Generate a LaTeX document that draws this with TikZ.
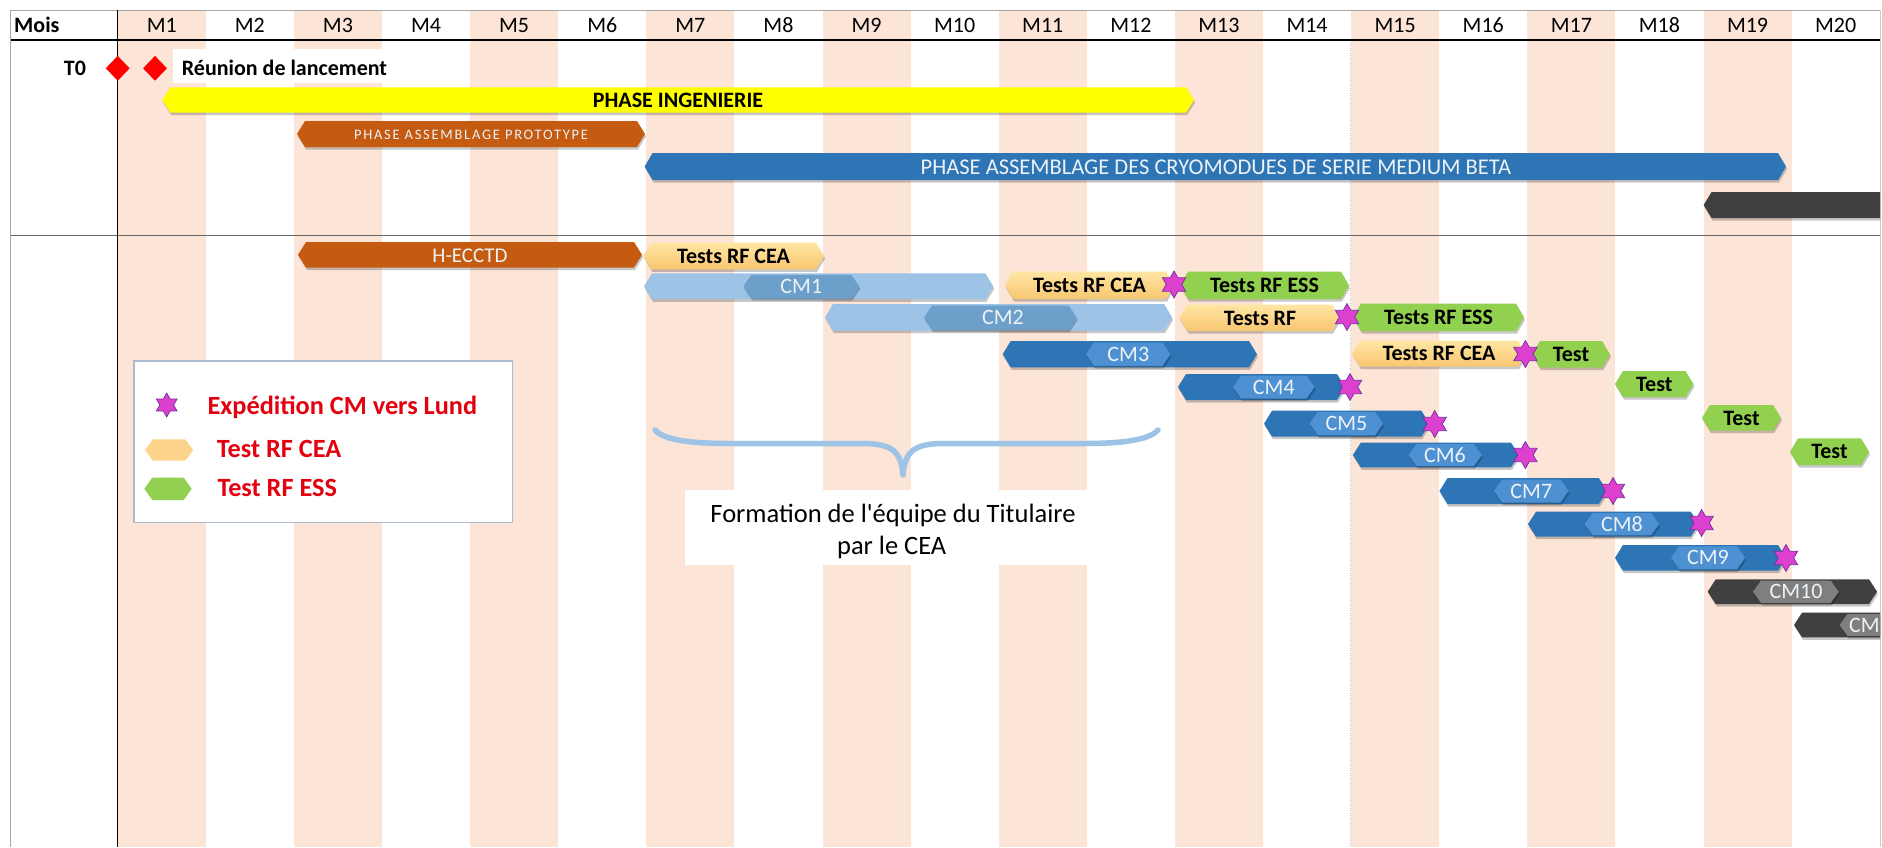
\documentclass[tikz,border=0pt]{standalone}
\usepackage{fontspec}
\setmainfont{Carlito}
\usetikzlibrary{shapes.geometric}

\definecolor{stripe}{HTML}{FCE4D6}
\definecolor{ingyellow}{HTML}{FFFF00}
\definecolor{protoorange}{HTML}{C55A11}
\definecolor{seriesblue}{HTML}{2E75B6}
\definecolor{innerblue}{HTML}{4E91D2}
\definecolor{paleblue}{HTML}{9DC3E6}
\definecolor{paleinner}{HTML}{6CA0CB}
\definecolor{darkbar}{HTML}{404040}
\definecolor{darkinner}{HTML}{7F7F7F}
\definecolor{ceatop}{HTML}{FFE6A3}
\definecolor{ceabot}{HTML}{F8C670}
\definecolor{ceaflat}{HTML}{FDD48B}
\definecolor{essgreen}{HTML}{92D050}
\definecolor{shipstar}{HTML}{DD3FCF}
\definecolor{shipedge}{HTML}{7030A0}
\definecolor{legendred}{HTML}{E3000F}
\definecolor{bracecol}{HTML}{9DC3E6}
\definecolor{legendedge}{HTML}{A9BCD0}
\definecolor{bartext}{HTML}{EDF2F7}

% hexagonal bar: style, left tip x, right tip x, top y, bottom y
\newcommand{\hexpath}[5]{\path[#1] ({#2},{(#4+#5)/2}) -- ({#2+8},{#4}) -- ({#3-8},{#4})
  -- ({#3},{(#4+#5)/2}) -- ({#3-8},{#5}) -- ({#2+8},{#5}) -- cycle;}
% bar with a soft drop shadow underneath
\newcommand{\ganttbar}[5]{%
  \hexpath{fill=black,opacity=0.22,xshift=1pt,yshift=-2.5pt}{#2}{#3}{#4}{#5}%
  \hexpath{#1}{#2}{#3}{#4}{#5}}

\tikzset{
  cea/.style={top color=ceatop, bottom color=ceabot},
  hdrlbl/.style={font=\fontsize{22}{26}\selectfont, anchor=base, inner sep=0pt},
  boldlbl/.style={font=\fontsize{22}{26}\selectfont\bfseries, anchor=base, inner sep=0pt},
  cmlbl/.style={font=\fontsize{22}{26}\selectfont, text=bartext, anchor=base, inner sep=0pt},
  protolbl/.style={font=\fontsize{14.5}{17}\selectfont\addfontfeature{LetterSpace=12}, text=bartext, anchor=base, inner sep=0pt},
  phaselbl/.style={font=\fontsize{22.5}{26}\selectfont, text=bartext, anchor=base, inner sep=0pt},
  legendlbl/.style={font=\fontsize{26.3}{30}\selectfont\bfseries, text=legendred, anchor=base west, inner sep=0pt},
  notelbl/.style={font=\fontsize{26.5}{31}\selectfont\addfontfeature{Ligatures=TeXOff}, anchor=base, inner sep=0pt},
  ship/.style={star, star points=6, star point ratio=1.75, fill=shipstar, draw=shipedge,
    line width=0.7, minimum size=27, inner sep=0pt},
  milestone/.style={diamond, fill=red, minimum width=24, minimum height=25, inner sep=0pt},
  brace/.style={draw=bracecol, line width=5.5, line cap=round, line join=round},
}

\begin{document}
\begin{tikzpicture}[x=1pt, y=-1pt]
\useasboundingbox (0,0) rectangle (1882,847);
\fill[white] (0,0) rectangle (1882,847);

% month columns, odd months shaded
\foreach \k in {0,2,...,18}
  \fill[stripe] ({117.7+\k*88.1},10) rectangle ({117.7+(\k+1)*88.1},847);

% grid lines
\draw[gray!45, line width=0.6, dash pattern=on 1pt off 1.5pt] (1350,40) -- (1350,847);
\draw[gray!70, line width=1] (10,10) -- (1880,10);
\draw[black, line width=1.3] (10,40) -- (1880,40);
\draw[gray!80!black, line width=1] (10,235.5) -- (1880,235.5);
\draw[gray!70, line width=1] (10,10) -- (10,847);
\draw[gray!40, line width=0.8] (1880,10) -- (1880,847);
\draw[black, line width=0.8] (117.7,10) -- (117.7,847);

% header row
\node[boldlbl, anchor=base west] (mois) at (14,32.7) {Mois};
\foreach \k in {1,...,20}
  \node[hdrlbl] (m\k) at ({117.7+(\k-0.5)*88.1},32.7) {M\k};

% kick-off
\node[boldlbl] (t0) at (75,75.5) {T0};
\node[milestone] (t0a) at (117.7,68.3) {};
\node[milestone] (t0b) at (155,68.3) {};
\fill[white] (172.7,49.3) rectangle (390,83.3);
\node[boldlbl, anchor=base west] (kickoff) at (181.7,75.2) {Réunion de lancement};

% main phases
\ganttbar{fill=ingyellow}{162.3}{1194}{87.3}{112.7}
\node[boldlbl] (ing) at (678,107.4) {PHASE INGENIERIE};
\ganttbar{fill=protoorange}{297}{645}{121}{147}
\node[protolbl] (proto) at (471,139) {PHASE ASSEMBLAGE PROTOTYPE};
\ganttbar{fill=seriesblue}{644.6}{1786}{153}{180}
\node[phaselbl] (serie) at (1216,174) {PHASE ASSEMBLAGE DES CRYOMODUES DE SERIE MEDIUM BETA};

\begin{scope}
\clip (0,0) rectangle (1880,847);
\ganttbar{fill=darkbar}{1703.6}{1960}{192}{218}
% CM10 and CM11 run past the last month
\ganttbar{fill=darkbar}{1707.7}{1877}{579.3}{604}
\ganttbar{fill=darkinner}{1753}{1838.7}{580.5}{603}
\node[cmlbl] (cm10) at (1796,598.7) {CM10};
\ganttbar{fill=darkbar}{1794}{1962}{612.7}{637.3}
\ganttbar{fill=darkinner}{1839.5}{1925}{614}{636}
\node[cmlbl, anchor=base west] (cm11) at (1849,632) {CM};
\end{scope}

% prototype and first tests
\ganttbar{fill=protoorange}{298}{642}{242}{267.5}
\node[cmlbl, font=\fontsize{21}{25}\selectfont] (hecctd) at (470,262.5) {H-ECCTD};
\ganttbar{cea}{643.3}{824}{242.7}{269.3}
\node[boldlbl] (ceaA) at (733.5,263.3) {Tests RF CEA};

% CM1
\ganttbar{fill=paleblue}{644}{993.3}{273.3}{299.3}
\ganttbar{fill=paleinner}{743.3}{859.3}{274.8}{298}
\node[cmlbl] (cm1) at (801.3,293.5) {CM1};
\ganttbar{cea}{1005}{1174}{271.7}{299}
\node[boldlbl] (ceaB) at (1089.5,292.5) {Tests RF CEA};
\ganttbar{fill=essgreen}{1180}{1349}{271.7}{299}
\node[boldlbl] (essB) at (1264.5,292.5) {Tests RF ESS};
\node[ship] (shipB) at (1174,284.5) {};

% CM2
\ganttbar{fill=paleblue}{825}{1172}{304}{330.7}
\ganttbar{fill=paleinner}{924}{1076.7}{305.5}{329.5}
\node[cmlbl] (cm2) at (1003,324.5) {CM2};
\ganttbar{cea}{1179.5}{1340}{304.5}{331}
\node[boldlbl] (ceaC) at (1260,325) {Tests RF};
\ganttbar{fill=essgreen}{1353}{1524}{303.5}{331}
\node[boldlbl] (essC) at (1438.5,324.5) {Tests RF ESS};
\node[ship] (shipC) at (1347,317) {};

% CM3
\ganttbar{fill=seriesblue}{1002.7}{1257}{341}{367.3}
\ganttbar{fill=innerblue}{1086}{1170.5}{342.5}{366}
\node[cmlbl] (cm3) at (1128.3,361.3) {CM3};
\ganttbar{cea}{1352}{1526}{340.5}{366.7}
\node[boldlbl] (ceaD) at (1439,360.8) {Tests RF CEA};
\ganttbar{fill=essgreen}{1532}{1610}{341}{367.7}
\node[boldlbl] (essD) at (1571,361.5) {Test};
\node[ship] (shipD) at (1525.4,354) {};

% CM4
\ganttbar{fill=seriesblue}{1178}{1345}{374}{400}
\ganttbar{fill=innerblue}{1233}{1314.5}{375.5}{398.5}
\node[cmlbl] (cm4) at (1273.8,394) {CM4};
\node[ship] (shipE) at (1350,387) {};
\ganttbar{fill=essgreen}{1615}{1693.5}{371}{397}
\node[boldlbl] (essE) at (1654.3,391) {Test};

% CM5
\ganttbar{fill=seriesblue}{1264}{1429.4}{410.7}{436.7}
\ganttbar{fill=innerblue}{1309.7}{1383}{412}{435.3}
\node[cmlbl] (cm5) at (1346.4,430.7) {CM5};
\node[ship] (shipF) at (1434.7,424) {};
\ganttbar{fill=essgreen}{1702}{1781}{405}{430.7}
\node[boldlbl] (essF) at (1741.5,425) {Test};

% CM6
\ganttbar{fill=seriesblue}{1352.8}{1519}{442.7}{467.3}
\ganttbar{fill=innerblue}{1408.5}{1481.8}{444}{466}
\node[cmlbl] (cm6) at (1445,462) {CM6};
\node[ship] (shipG) at (1525.4,455) {};
\ganttbar{fill=essgreen}{1790}{1869}{438.3}{465}
\node[boldlbl] (essG) at (1829.5,458.8) {Test};

% CM7 to CM9
\ganttbar{fill=seriesblue}{1439.5}{1606.9}{478}{504}
\ganttbar{fill=innerblue}{1494}{1568.5}{479.5}{502.5}
\node[cmlbl] (cm7) at (1531.3,498) {CM7};
\node[ship] (shipH) at (1613,491) {};

\ganttbar{fill=seriesblue}{1528}{1698.8}{511.7}{536.7}
\ganttbar{fill=innerblue}{1584.7}{1659}{513}{535.3}
\node[cmlbl] (cm8) at (1621.9,531.2) {CM8};
\node[ship] (shipI) at (1701.6,523) {};

\ganttbar{fill=seriesblue}{1615}{1786}{545}{570.7}
\ganttbar{fill=innerblue}{1671}{1745}{546.3}{569.3}
\node[cmlbl] (cm9) at (1708,564.9) {CM9};
\node[ship] (shipJ) at (1786,558) {};

% legend
\node[draw=legendedge, line width=1.5, fill=white, minimum width=378.4, minimum height=161.7,
  inner sep=0pt, anchor=north west] (legend) at (133.3,360) {};
\node[ship, minimum size=24] (legstar) at (166.7,405) {};
\node[legendlbl] (legship) at (207.3,414) {Expédition CM vers Lund};
\hexpath{fill=ceaflat}{145}{193.3}{439.3}{460.7}
\node[legendlbl] (legcea) at (216.7,457.3) {Test RF CEA};
\hexpath{fill=essgreen}{144.3}{191.7}{477.7}{500}
\node[legendlbl] (legess) at (217.3,496.7) {Test RF ESS};

% training period
\draw[brace] (655,430) .. controls (664,440) and (690,443.5) .. (730,443.5) -- (862,443.5)
  .. controls (893,443.5) and (901,452) .. (903,475)
  .. controls (905,452) and (913,443.5) .. (944,443.5) -- (1083,443.5)
  .. controls (1123,443.5) and (1149,440) .. (1158,430);
\fill[white] (685,490) rectangle (1087,565);
\node[notelbl] (training1) at (893,522.7) {Formation de l'équipe du Titulaire};
\node[notelbl] (training2) at (891.7,554) {par le CEA};
\end{tikzpicture}
\end{document}
